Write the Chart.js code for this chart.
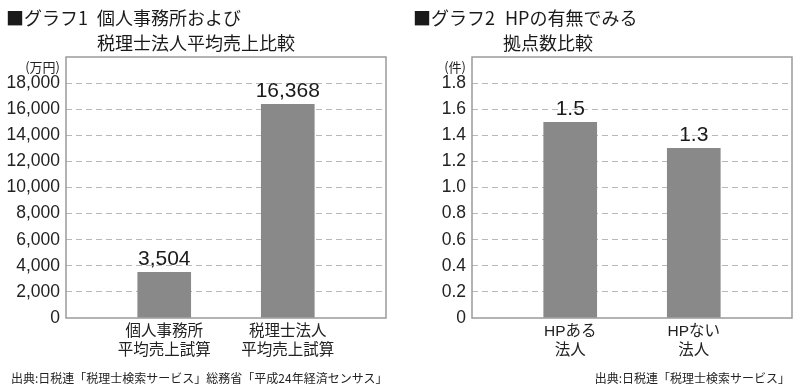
<!DOCTYPE html>
<html lang="ja">
<head>
<meta charset="utf-8">
<script src="https://cdn.jsdelivr.net/npm/chart.js@4.4.1/dist/chart.umd.min.js"></script>
<style>
  body { margin: 0; background: #fff; }
  #wrap { position: relative; width: 800px; height: 391px; overflow: hidden; color: #222;
          font-family: "Noto Sans CJK JP", "Liberation Sans", sans-serif; }
  canvas { position: absolute; top: 0; }
  .title { position: absolute; top: 5px; font-size: 18px; line-height: 25px; font-weight: 400; white-space: nowrap; color: #1a1a1a; }
  .title .pre { display: inline-block; }
  .unit { position: absolute; top: 59px; font-size: 13px; line-height: 16px; text-align: right; }
  .note { position: absolute; top: 370px; font-size: 12px; line-height: 16px; white-space: nowrap; }
</style>
</head>
<body>
<div id="wrap">
  <canvas id="chart1" width="400" height="391" style="left:0"></canvas>
  <canvas id="chart2" width="400" height="391" style="left:400px"></canvas>

  <div class="title" style="left:6px">
    <div><span class="pre" style="width:91px">■グラフ1</span>個人事務所および</div>
    <div style="padding-left:91px">税理士法人平均売上比較</div>
  </div>
  <div class="title" style="left:413px">
    <div><span class="pre" style="width:92px">■グラフ2</span>HPの有無でみる</div>
    <div style="padding-left:90px">拠点数比較</div>
  </div>

  <div class="unit" style="left:0;width:60px">(万円)</div>
  <div class="unit" style="left:400px;width:66px">(件)</div>

  <div class="note" style="left:11px">出典:日税連「税理士検索サービス」総務省「平成24年経済センサス」</div>
  <div class="note" style="right:10px">出典:日税連「税理士検索サービス」</div>
</div>

<script>
// graph 1: average sales (万円)
var categories1 = [["個人事務所", "平均売上試算"], ["税理士法人", "平均売上試算"]];
var sales = [3504, 16368];
var yMax1 = 20000, yStep1 = 2000;

// graph 2: number of offices (件)
var categories2 = [["HPある", "法人"], ["HPない", "法人"]];
var offices = [1.5, 1.3];
var yMax2 = 2.0, yStep2 = 0.2;

var numFont = "'Liberation Sans', 'Noto Sans CJK JP', sans-serif";
var textColor = "#222";
var barColor = "#898989";
var gridColor = "#b8b8b8";

// grey box round the plot area
var frame = {
  id: "frame",
  afterDatasetsDraw: function (chart) {
    var a = chart.chartArea, ctx = chart.ctx;
    ctx.save();
    ctx.strokeStyle = "#9a9a9a";
    ctx.lineWidth = 1.5;
    ctx.strokeRect(a.left, a.top, a.right - a.left, a.bottom - a.top);
    ctx.restore();
  },
};

// value written above each bar
function valueLabels(format) {
  return {
    id: "valueLabels",
    afterDatasetsDraw: function (chart) {
      var ctx = chart.ctx;
      var ds = chart.data.datasets[0];
      ctx.save();
      ctx.font = "21px " + numFont;
      ctx.fillStyle = "#1a1a1a";
      ctx.textAlign = "center";
      ctx.textBaseline = "bottom";
      chart.getDatasetMeta(0).data.forEach(function (bar, i) {
        ctx.fillText(format(ds.data[i].y), bar.x, bar.y - 3);
      });
      ctx.restore();
    },
  };
}

function makeChart(id, cats, values, yMax, yStep, yWidth, padRight, tickFormat) {
  return new Chart(id, {
    type: "bar",
    data: {
      datasets: [
        {
          data: values.map(function (v, i) { return { x: i + 1, y: v }; }),
          backgroundColor: barColor,
          barThickness: 53,
        },
      ],
    },
    options: {
      responsive: false,
      animation: false,
      layout: { padding: { top: 57, right: padRight, bottom: 28, left: 0 } },
      plugins: { legend: { display: false }, tooltip: { enabled: false } },
      scales: {
        x: {
          type: "linear",
          min: 0.205,
          max: 2.795,
          offset: false,
          grid: { display: false, drawTicks: false },
          border: { display: false },
          afterBuildTicks: function (s) {
            s.ticks = cats.map(function (c, i) { return { value: i + 1 }; });
          },
          afterFit: function (s) { s.height = 45; },
          ticks: {
            autoSkip: false,
            maxRotation: 0,
            padding: 4,
            color: textColor,
            font: { family: numFont, size: 15.5, lineHeight: 1.25 },
            callback: function (v, i) { return cats[i]; },
          },
        },
        y: {
          min: 0,
          max: yMax,
          afterFit: function (s) { s.width = yWidth; },
          grid: {
            drawTicks: false,
            lineWidth: 1,
            color: function (c) {
              var v = c.tick.value;
              return v === 0 || Math.abs(v - yMax) < 1e-9 ? "rgba(0,0,0,0)" : gridColor;
            },
          },
          border: { display: false, dash: [6, 4] },
          ticks: {
            stepSize: yStep,
            padding: 6,
            color: textColor,
            font: { family: numFont, size: 17.5 },
            callback: function (v) {
              return Math.abs(v - yMax) < 1e-9 ? "" : tickFormat(v);
            },
          },
        },
      },
    },
    plugins: [frame, valueLabels(tickFormat)],
  });
}

makeChart("chart1", categories1, sales, yMax1, yStep1, 66, 14, function (v) {
  return v.toLocaleString("en-US");
});

makeChart("chart2", categories2, offices, yMax2, yStep2, 72, 8, function (v) {
  return v === 0 ? "0" : v.toFixed(1);
});
</script>
</body>
</html>
